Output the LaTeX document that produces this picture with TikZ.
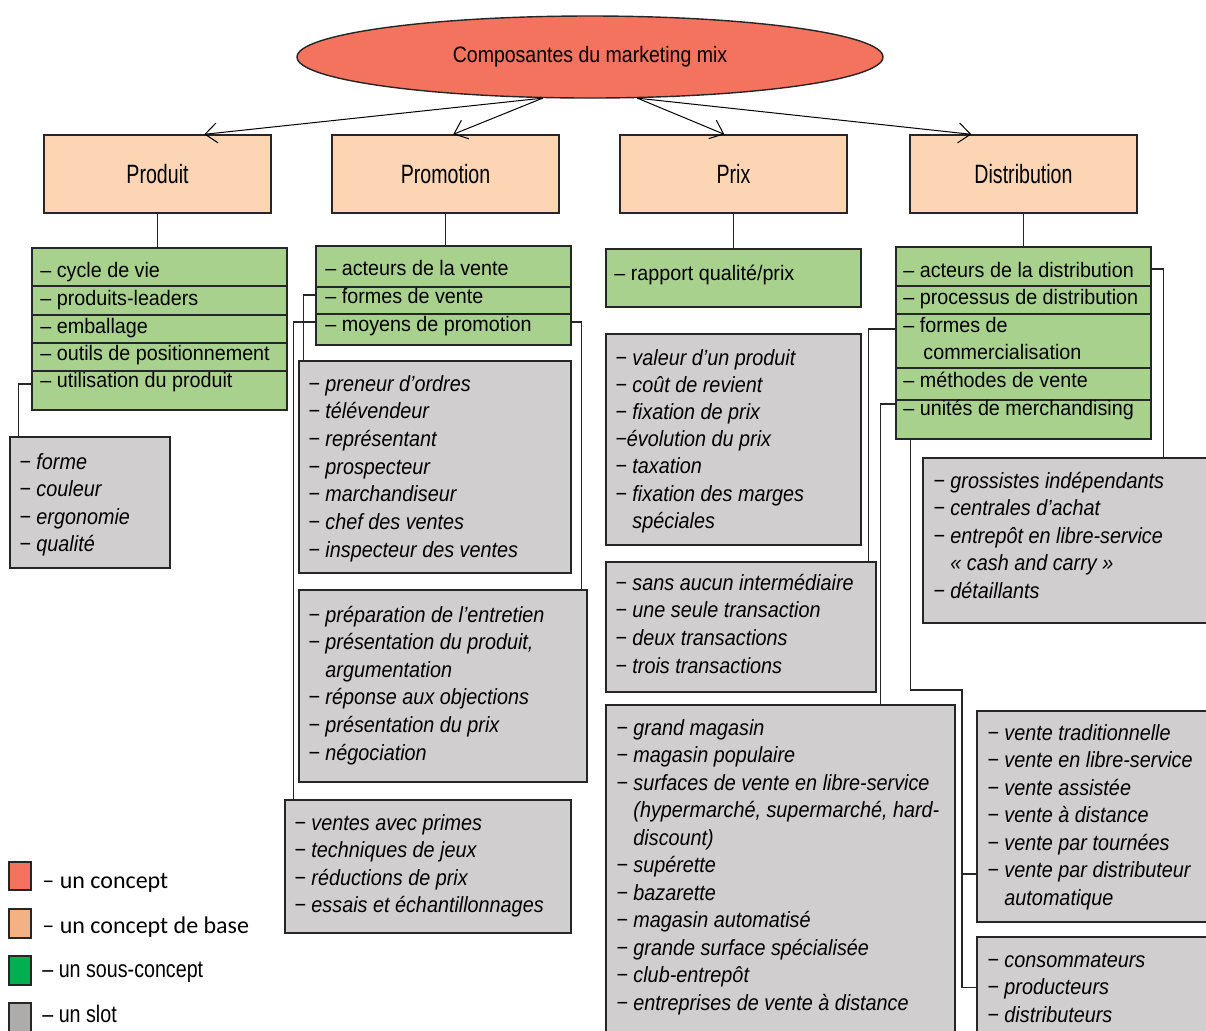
\documentclass[tikz,border=0pt]{standalone}
\usepackage{fontspec}
\setmainfont{Liberation Sans}
\newfontfamily\carlito{Carlito}
\newfontfamily\greenfont[FakeStretch=0.94]{Liberation Sans}
\newfontfamily\slotfont[FakeStretch=0.9]{Liberation Sans}
\newfontfamily\titlefont[FakeStretch=0.875]{Liberation Sans}
\newfontfamily\basefont[FakeStretch=0.74]{Liberation Sans}
\newfontfamily\legfont[FakeStretch=0.82]{Liberation Sans}
\usetikzlibrary{shapes.geometric,arrows.meta,fit,calc}
\definecolor{cRed}{HTML}{F4735F}
\definecolor{cPeach}{HTML}{FCD5B5}
\definecolor{cGreen}{HTML}{A9D18E}
\definecolor{cSlot}{HTML}{D0CECE}
\definecolor{lOrange}{HTML}{F4B183}
\definecolor{lGreen}{HTML}{00B050}
\definecolor{lGray}{HTML}{AEABAB}
\definecolor{edgec}{HTML}{262626}
\tikzset{
 boxbase/.style={draw=edgec, line width=0.7pt, inner sep=0pt},
 basebox/.style={boxbase, fill=cPeach, minimum width=113.5pt, minimum height=39pt, font=\basefont\fontsize{13.25}{15}\selectfont},
 greenbox/.style={boxbase, fill=cGreen},
 slotbox/.style={boxbase, fill=cSlot},
 rowtxt/.style={anchor=base west, inner sep=0pt, font=\greenfont\fontsize{10.5}{13}\selectfont},
 slottxt/.style={anchor=base west, inner sep=0pt, font=\slotfont\fontsize{11}{13}\selectfont\itshape},
 conn/.style={draw=edgec, line width=0.55pt},
 divider/.style={draw=edgec, line width=0.55pt},
 arr/.style={draw=black, line width=0.5pt, -{Straight Barb[length=6pt,width=10pt]}},
 legsq/.style={draw=edgec, line width=0.7pt, inner sep=0pt},
 legtxt/.style={anchor=base west, inner sep=0pt, font=\legfont\fontsize{12}{14}\selectfont},
 legtxtc/.style={anchor=base west, inner sep=0pt, font=\carlito\fontsize{12}{14}\selectfont},
}
\begin{document}
\begin{tikzpicture}[x=0.5pt,y=-0.5pt]
\useasboundingbox (0,0) rectangle (1206,1030);
\clip (0,0) rectangle (1206,1030);

% concept
\node[ellipse, draw=edgec, line width=0.7pt, fill=cRed, minimum width=293pt, minimum height=41pt, inner sep=0pt, font=\titlefont\fontsize{11.15}{13}\selectfont] (el) at (590,57) {Composantes du marketing mix};

% base concepts
\node[basebox] (b1) at (157.5,174) {Produit};
\node[basebox] (b2) at (445.5,174) {Promotion};
\node[basebox] (b3) at (733.5,174) {Prix};
\node[basebox] (b4) at (1023.5,174) {Distribution};

\draw[arr] (el.221) -- ($(b1.north west)+(161,0)$);
\draw[arr] (el.221) -- ($(b2.north west)+(122,0)$);
\draw[arr] (el.319) -- ($(b3.north west)+(105,0)$);
\draw[arr] (el.319) -- ($(b4.north west)+(62,0)$);

% sub-concepts
\node[greenbox, fit={(32,248) (287,410)}] (pg) {};
\node[greenbox, fit={(316,246) (571,345)}] (mg) {};
\node[greenbox, fit={(606,249) (861,307)}] (xg) {};
\node[greenbox, fit={(896,247) (1151,439)}] (dg) {};

\draw[conn] (b1.south) -- (b1.south |- pg.north);
\draw[conn] (b2.south) -- (b2.south |- mg.north);
\draw[conn] (b3.south) -- (b3.south |- xg.north);
\draw[conn] (b4.south) -- (b4.south |- dg.north);

\foreach \yy in {286,315,343,371} \draw[divider] (pg.west |- 0,\yy) -- (pg.east |- 0,\yy);
\foreach \yy in {287,314} \draw[divider] (mg.west |- 0,\yy) -- (mg.east |- 0,\yy);
\foreach \yy in {286,314,368,400} \draw[divider] (dg.west |- 0,\yy) -- (dg.east |- 0,\yy);

\node[rowtxt] (pr1) at (40,277) {– cycle de vie};
\node[rowtxt] (pr2) at (40,305) {– produits-leaders};
\node[rowtxt] (pr3) at (40,333) {– emballage};
\node[rowtxt] (pr4) at (40,360) {– outils de positionnement};
\node[rowtxt] (pr5) at (40,387) {– utilisation du produit};

\node[rowtxt] (mr1) at (325,275) {– acteurs de la vente};
\node[rowtxt] (mr2) at (325,303) {– formes de vente};
\node[rowtxt] (mr3) at (325,331) {– moyens de promotion};

\node[rowtxt] (xr1) at (614,280) {– rapport qualité/prix};

\node[rowtxt] (dr1) at (903,277) {– acteurs de la distribution};
\node[rowtxt] (dr2) at (903,304) {– processus de distribution};
\node[rowtxt] (dr3) at (903,332) {– formes de};
\node[rowtxt] (dr3b) at (923,359) {commercialisation};
\node[rowtxt] (dr4) at (903,387) {– méthodes de vente};
\node[rowtxt] (dr5) at (903,415) {– unités de merchandising};

% slots
\node[slotbox, fit={(10,437) (170,568)}] (ps) {};
\node[slotbox, fit={(299,361) (571,573)}] (m1) {};
\node[slotbox, fit={(299,590) (587,782)}] (m2) {};
\node[slotbox, fit={(285,800) (571,933)}] (m3) {};
\node[slotbox, fit={(606,334) (861,545)}] (x1) {};
\node[slotbox, fit={(606,562) (876,692)}] (x2) {};
\node[slotbox, fit={(606,705) (955,1040)}] (bm) {};
\node[slotbox, fit={(923,458) (1214,623)}] (gr) {};
\node[slotbox, fit={(977,711) (1214,922)}] (vt) {};
\node[slotbox, fit={(977,937) (1214,1040)}] (cs) {};

\foreach \t [count=\i from 0] in {− forme,− couleur,− ergonomie,− qualité}
  \node[slottxt, name=pst\i] at (19,{469+27.5*\i}) {\t};
\foreach \t [count=\i from 0] in {− preneur d’ordres,− télévendeur,− représentant,− prospecteur,− marchandiseur,− chef des ventes,− inspecteur des ventes}
  \node[slottxt, name=mat\i] at (308,{391+27.7*\i}) {\t};
\foreach \t [count=\i from 0] in {− préparation de l’entretien,{− présentation du produit,},\hphantom{−\ }argumentation,− réponse aux objections,− présentation du prix,− négociation}
  \node[slottxt, name=mbt\i] at (308,{622+27.6*\i}) {\t};
\foreach \t [count=\i from 0] in {− ventes avec primes,− techniques de jeux,− réductions de prix,− essais et échantillonnages}
  \node[slottxt, name=mct\i] at (294,{830+27.5*\i}) {\t};
\foreach \t [count=\i from 0] in {− valeur d’un produit,− coût de revient,− fixation de prix,−évolution du prix,− taxation,− fixation des marges,\hphantom{−\ }spéciales}
  \node[slottxt, name=xat\i] at (615,{365+27.2*\i}) {\t};
\foreach \t [count=\i from 0] in {− sans aucun intermédiaire,− une seule transaction,− deux transactions,− trois transactions}
  \node[slottxt, name=xbt\i] at (615,{590+27.7*\i}) {\t};
\foreach \t [count=\i from 0] in {− grand magasin,− magasin populaire,− surfaces de vente en libre-service,{\hphantom{−\ }(hypermarché, supermarché, hard-},\hphantom{−\ }discount),− supérette,− bazarette,− magasin automatisé,− grande surface spécialisée,− club-entrepôt,− entreprises de vente à distance}
  \node[slottxt, name=bmt\i] at (616,{735+27.5*\i}) {\t};
\foreach \t [count=\i from 0] in {− grossistes indépendants,− centrales d’achat,− entrepôt en libre-service,\hphantom{−\ }« cash and carry »,− détaillants}
  \node[slottxt, name=grt\i] at (933,{488+27.5*\i}) {\t};
\foreach \t [count=\i from 0] in {− vente traditionnelle,− vente en libre-service,− vente assistée,− vente à distance,− vente par tournées,− vente par distributeur,\hphantom{−\ }automatique}
  \node[slottxt, name=vtt\i] at (987,{740+27.5*\i}) {\t};
\foreach \t [count=\i from 0] in {− consommateurs,− producteurs,− distributeurs}
  \node[slottxt, name=cst\i] at (987,{967+27.5*\i}) {\t};

% connectors to slots
\draw[conn] (pg.west |- 0,384) -| ($(ps.north west)+(9,0)$);
\draw[conn] (mg.west |- 0,295) -| ($(m1.north west)+(5,0)$);
\draw[conn] (mg.west |- 0,322) -| ($(m3.north west)+(9,0)$);
\draw[conn] (mg.east |- 0,322) -| ($(m2.north east)+(-6,0)$);
\draw[conn] (dg.west |- 0,329) -| ($(x2.north east)+(-8,0)$);
\draw[conn] (dg.west |- 0,404) -| ($(bm.north west)+(275,0)$);
\draw[conn] (dg.east |- 0,269) -| ($(gr.north west)+(241,0)$);
\coordinate (dj) at (962,690);
\draw[conn] ($(dg.south west)+(15,0)$) |- (dj) |- ($(cs.north west)+(0,51)$);
\draw[conn] (vt.west |- 0,874) -- (dj |- 0,874);

% legend
\node[legsq, fill=cRed, fit={(9,862) (31,890)}] (lg1) {};
\node[legsq, fill=lOrange, fit={(9,909) (31,938)}] (lg2) {};
\node[legsq, fill=lGreen, fit={(9,956) (31,985)}] (lg3) {};
\node[legsq, fill=lGray, fit={(9,1003) (31,1040)}] (lg4) {};
\node[legtxtc] (lt1) at (42,888) {– un concept};
\node[legtxtc] (lt2) at (42,933) {– un concept de base};
\node[legtxt] (lt3) at (42,977) {– un sous-concept};
\node[legtxt] (lt4) at (42,1022) {– un slot};
\end{tikzpicture}
\end{document}
